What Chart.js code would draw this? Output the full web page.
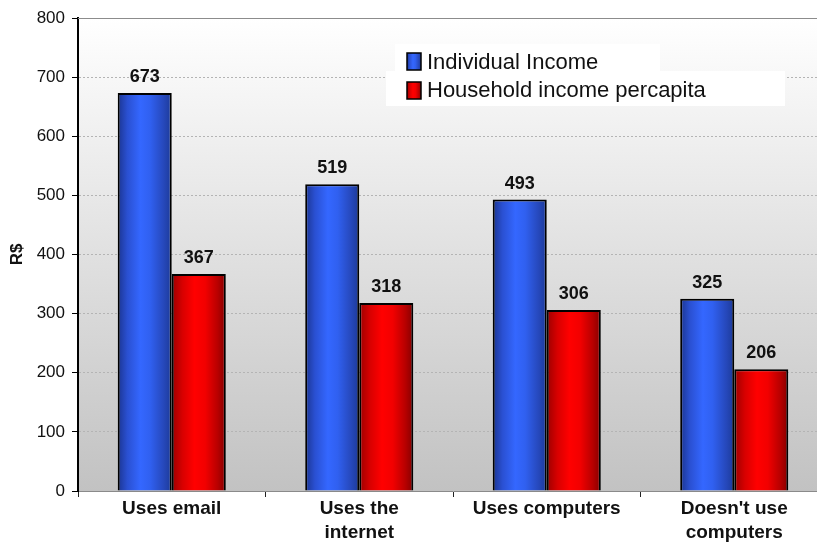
<!DOCTYPE html>
<html>
<head>
<meta charset="utf-8">
<script src="https://cdn.jsdelivr.net/npm/chart.js@4.4.1/dist/chart.umd.min.js"></script>
<style>
  html, body { margin: 0; padding: 0; background: #fff; overflow: hidden; }
  #wrap { width: 830px; height: 542px; }
</style>
</head>
<body>
<div id="wrap"><canvas id="incomeChart" width="830" height="542"></canvas></div>
<script>
// --- Datos ---
const categories = [['Uses email'], ['Uses the', 'internet'], ['Uses computers'], ["Doesn't use", 'computers']];
const seriesNames = ['Individual Income', 'Household income percapita'];
const individualIncome = [673, 519, 493, 325];
const householdIncome = [367, 318, 306, 206];
const yMin = 0;
const yMax = 800;
const yStep = 100;
const yTitle = 'R$';

const FONT = '"Liberation Sans", Arial, sans-serif';
const groupShare = 0.5765;

// horizontal shading so the bars look rounded
const blueShade = [[0, '#1b3591'], [0.18, '#2a50d2'], [0.42, '#3467ff'], [0.6, '#3060f0'], [0.85, '#2648bb'], [1, '#1c3a98']];
const redShade = [[0, '#9c0000'], [0.2, '#d80000'], [0.42, '#ff0000'], [0.62, '#f20000'], [0.85, '#b80000'], [1, '#850000']];
const shades = [blueShade, redShade];

function sideGradient(ctx, left, right, stops) {
    const g = ctx.createLinearGradient(left, 0, right, 0);
    stops.forEach(([p, c]) => g.addColorStop(p, c));
    return g;
}

function barFill(datasetIndex) {
    return (c) => {
        const stops = shades[datasetIndex];
        const x = c.chart.scales.x;
        if (c.type !== 'data' || !x) return stops[2][1];
        const center = x.getPixelForValue(c.dataIndex);
        const w = x.width / categories.length * groupShare / 2;
        if (!Number.isFinite(center) || !Number.isFinite(w) || w <= 0) return stops[2][1];
        const left = datasetIndex === 0 ? center - w : center;
        return sideGradient(c.chart.ctx, left, left + w, stops);
    };
}

// --- Plugins de dibujo ---
const plotBackground = {
    id: 'plotBackground',
    beforeDraw(chart) {
        const { ctx, chartArea: a } = chart;
        const g = ctx.createLinearGradient(0, a.top, 0, a.bottom);
        g.addColorStop(0, '#ffffff');
        g.addColorStop(1, '#c2c2c2');
        ctx.save();
        ctx.fillStyle = g;
        ctx.fillRect(a.left, a.top, a.right - a.left, a.bottom - a.top);
        ctx.restore();
    },
    afterDraw(chart) {
        const { ctx, chartArea: a } = chart;
        ctx.save();
        ctx.strokeStyle = '#8c8c8c';
        ctx.lineWidth = 1;
        ctx.beginPath();
        ctx.moveTo(a.left, a.top + 0.5);
        ctx.lineTo(a.right, a.top + 0.5);
        ctx.stroke();
        ctx.restore();
    }
};

const valueLabels = {
    id: 'valueLabels',
    afterDatasetsDraw(chart) {
        const ctx = chart.ctx;
        ctx.save();
        ctx.font = 'bold 18px ' + FONT;
        ctx.fillStyle = '#111';
        ctx.textAlign = 'center';
        ctx.textBaseline = 'alphabetic';
        chart.data.datasets.forEach((ds, di) => {
            chart.getDatasetMeta(di).data.forEach((bar, i) => {
                ctx.fillText(String(ds.data[i]), bar.x, bar.y - 11);
            });
        });
        ctx.restore();
    }
};

const insideLegend = {
    id: 'insideLegend',
    afterDraw(chart) {
        const ctx = chart.ctx;
        ctx.save();
        // white boxes behind the legend text
        ctx.fillStyle = '#ffffff';
        ctx.fillRect(395, 44, 265, 27);
        ctx.fillRect(386, 71, 399, 35);

        ctx.font = '22px ' + FONT;
        ctx.textBaseline = 'alphabetic';
        ctx.textAlign = 'left';
        const rows = [{ y: 53, base: 69 }, { y: 82, base: 97 }];
        chart.data.datasets.forEach((ds, di) => {
            const r = rows[di];
            ctx.fillStyle = sideGradient(ctx, 407, 421, shades[di]);
            ctx.fillRect(407, r.y, 14, 17);
            ctx.strokeStyle = '#000';
            ctx.lineWidth = 1.5;
            ctx.strokeRect(407, r.y, 14, 17);
            ctx.fillStyle = '#111';
            ctx.fillText(ds.label, 427, r.base);
        });
        ctx.restore();
    }
};

// --- Gráfico ---
Chart.defaults.font.family = FONT;
Chart.defaults.color = '#111';

const chart = new Chart(document.getElementById('incomeChart'), {
    type: 'bar',
    data: {
        labels: categories,
        datasets: [
            {
                label: seriesNames[0],
                data: individualIncome,
                backgroundColor: barFill(0),
                borderColor: '#000',
                borderWidth: 2,
                borderSkipped: 'bottom'
            },
            {
                label: seriesNames[1],
                data: householdIncome,
                backgroundColor: barFill(1),
                borderColor: '#000',
                borderWidth: 2,
                borderSkipped: 'bottom'
            }
        ]
    },
    options: {
        responsive: false,
        devicePixelRatio: 1,
        animation: false,
        layout: { padding: { top: 18, right: 2, bottom: 0, left: 0 } },
        datasets: { bar: { categoryPercentage: groupShare, barPercentage: 1 } },
        plugins: {
            legend: { display: false },
            tooltip: { enabled: false }
        },
        scales: {
            x: {
                grid: {
                    offset: true,
                    drawOnChartArea: false,
                    tickLength: 6,
                    tickColor: '#222',
                    tickWidth: 1
                },
                border: { color: '#8a8a8a', width: 1 },
                ticks: {
                    autoSkip: false,
                    maxRotation: 0,
                    padding: 0,
                    color: '#111',
                    font: { size: 19, weight: 'bold', lineHeight: 1.26 }
                },
                afterFit(scale) { scale.height = 51; }
            },
            y: {
                min: yMin,
                max: yMax,
                ticks: {
                    stepSize: yStep,
                    padding: 7,
                    color: '#111',
                    font: { size: 17 }
                },
                grid: {
                    color: (c) => (c.tick && (c.tick.value === yMin || c.tick.value === yMax)) ? 'rgba(0,0,0,0)' : '#b4b4b4',
                    lineWidth: 1,
                    tickColor: '#000',
                    tickLength: 6,
                    tickWidth: 1
                },
                border: { color: '#000', width: 2, dash: [2, 2] },
                title: {
                    display: true,
                    text: yTitle,
                    color: '#111',
                    font: { size: 17, weight: 'bold' },
                    padding: { top: 7, bottom: 0 }
                },
                afterFit(scale) { scale.width = 78; }
            }
        }
    },
    plugins: [plotBackground, valueLabels, insideLegend]
});
// second pass so the bar shading follows the final layout
chart.update('none');
</script>
</body>
</html>
